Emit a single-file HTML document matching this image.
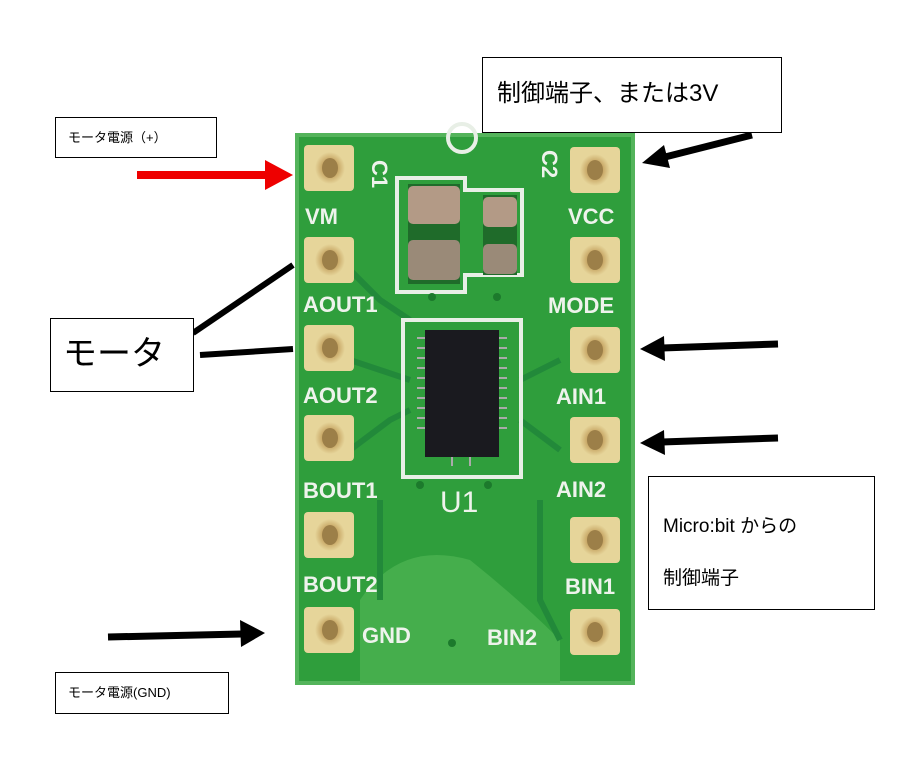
<!DOCTYPE html>
<html><head><meta charset="utf-8"><style>
body{margin:0;width:899px;height:757px;background:#fff;position:relative;overflow:hidden;font-family:"Liberation Sans","Noto Sans CJK JP",sans-serif}
.box{position:absolute;border:1px solid #000;background:#fff;box-sizing:border-box}
</style></head><body>
<svg width="899" height="757" style="position:absolute;left:0;top:0">
<defs>
<radialGradient id="pad" cx="50%" cy="50%" r="50%"><stop offset="0" stop-color="#a88d55"/><stop offset="0.55" stop-color="#c9a968"/><stop offset="1" stop-color="#e6d59a"/></radialGradient>
</defs>
<rect x="297" y="135" width="336" height="548" fill="#2f9e3c"/>
<rect x="297" y="135" width="336" height="548" fill="none" stroke="#54b45b" stroke-width="4"/>
<!-- traces darker -->
<path d="M360 600 Q400 540 470 560 Q520 600 560 640 L560 683 L360 683 Z" fill="#45ae4c"/>
<g stroke="#22893a" stroke-width="6" fill="none">
<path d="M350 270 L380 300 L410 320"/><path d="M350 360 L380 370 L410 380"/>
<path d="M350 450 L390 420 L410 410"/><path d="M560 360 L520 380"/><path d="M560 450 L520 420"/>
<path d="M540 500 L540 600 L560 640"/><path d="M380 500 L380 600"/>
</g>
<!-- silkscreen -->
<g stroke="#e8efe6" stroke-width="4" fill="none">
<path d="M397 178 L465 178 L465 190 L522 190 L522 275 L465 275 L465 292 L397 292 Z"/>
<rect x="403" y="320" width="118" height="157"/>
<circle cx="462" cy="138" r="14"/>
</g>
<rect x="408" y="184" width="52" height="100" fill="#1f6b2a"/>
<rect x="408" y="186" width="52" height="38" rx="5" fill="#b39a86"/>
<rect x="408" y="240" width="52" height="40" rx="5" fill="#9a8a78"/>
<rect x="483" y="195" width="34" height="80" fill="#1f6b2a"/>
<rect x="483" y="197" width="34" height="30" rx="5" fill="#b39a86"/>
<rect x="483" y="244" width="34" height="30" rx="5" fill="#9a8a78"/>
<g fill="#1c7a2c"><circle cx="432" cy="297" r="4"/><circle cx="497" cy="297" r="4"/><circle cx="420" cy="485" r="4"/><circle cx="488" cy="485" r="4"/><circle cx="452" cy="643" r="4"/></g>
<rect x="425" y="330" width="74" height="127" fill="#1a1a1f"/>
<g stroke="#aaa" stroke-width="2">
<line x1="417" y1="338" x2="425" y2="338"/><line x1="417" y1="348" x2="425" y2="348"/><line x1="417" y1="358" x2="425" y2="358"/><line x1="417" y1="368" x2="425" y2="368"/><line x1="417" y1="378" x2="425" y2="378"/><line x1="417" y1="388" x2="425" y2="388"/><line x1="417" y1="398" x2="425" y2="398"/><line x1="417" y1="408" x2="425" y2="408"/><line x1="417" y1="418" x2="425" y2="418"/><line x1="417" y1="428" x2="425" y2="428"/>
<line x1="499" y1="338" x2="507" y2="338"/><line x1="499" y1="348" x2="507" y2="348"/><line x1="499" y1="358" x2="507" y2="358"/><line x1="499" y1="368" x2="507" y2="368"/><line x1="499" y1="378" x2="507" y2="378"/><line x1="499" y1="388" x2="507" y2="388"/><line x1="499" y1="398" x2="507" y2="398"/><line x1="499" y1="408" x2="507" y2="408"/><line x1="499" y1="418" x2="507" y2="418"/><line x1="499" y1="428" x2="507" y2="428"/>
<line x1="452" y1="457" x2="452" y2="466"/><line x1="470" y1="457" x2="470" y2="466"/>
</g>
<!-- pads -->
<g>
<rect x="304" y="145" width="50" height="46" rx="4" fill="#e6d59a"/><ellipse cx="330" cy="168" rx="15" ry="16" fill="url(#pad)"/><ellipse cx="330" cy="168" rx="8" ry="10" fill="#9c7f48"/>
<rect x="304" y="237" width="50" height="46" rx="4" fill="#e6d59a"/><ellipse cx="330" cy="260" rx="15" ry="16" fill="url(#pad)"/><ellipse cx="330" cy="260" rx="8" ry="10" fill="#9c7f48"/>
<rect x="304" y="325" width="50" height="46" rx="4" fill="#e6d59a"/><ellipse cx="330" cy="348" rx="15" ry="16" fill="url(#pad)"/><ellipse cx="330" cy="348" rx="8" ry="10" fill="#9c7f48"/>
<rect x="304" y="415" width="50" height="46" rx="4" fill="#e6d59a"/><ellipse cx="330" cy="438" rx="15" ry="16" fill="url(#pad)"/><ellipse cx="330" cy="438" rx="8" ry="10" fill="#9c7f48"/>
<rect x="304" y="512" width="50" height="46" rx="4" fill="#e6d59a"/><ellipse cx="330" cy="535" rx="15" ry="16" fill="url(#pad)"/><ellipse cx="330" cy="535" rx="8" ry="10" fill="#9c7f48"/>
<rect x="304" y="607" width="50" height="46" rx="4" fill="#e6d59a"/><ellipse cx="330" cy="630" rx="15" ry="16" fill="url(#pad)"/><ellipse cx="330" cy="630" rx="8" ry="10" fill="#9c7f48"/>
<rect x="570" y="147" width="50" height="46" rx="4" fill="#e6d59a"/><ellipse cx="595" cy="170" rx="15" ry="16" fill="url(#pad)"/><ellipse cx="595" cy="170" rx="8" ry="10" fill="#9c7f48"/>
<rect x="570" y="237" width="50" height="46" rx="4" fill="#e6d59a"/><ellipse cx="595" cy="260" rx="15" ry="16" fill="url(#pad)"/><ellipse cx="595" cy="260" rx="8" ry="10" fill="#9c7f48"/>
<rect x="570" y="327" width="50" height="46" rx="4" fill="#e6d59a"/><ellipse cx="595" cy="350" rx="15" ry="16" fill="url(#pad)"/><ellipse cx="595" cy="350" rx="8" ry="10" fill="#9c7f48"/>
<rect x="570" y="417" width="50" height="46" rx="4" fill="#e6d59a"/><ellipse cx="595" cy="440" rx="15" ry="16" fill="url(#pad)"/><ellipse cx="595" cy="440" rx="8" ry="10" fill="#9c7f48"/>
<rect x="570" y="517" width="50" height="46" rx="4" fill="#e6d59a"/><ellipse cx="595" cy="540" rx="15" ry="16" fill="url(#pad)"/><ellipse cx="595" cy="540" rx="8" ry="10" fill="#9c7f48"/>
<rect x="570" y="609" width="50" height="46" rx="4" fill="#e6d59a"/><ellipse cx="595" cy="632" rx="15" ry="16" fill="url(#pad)"/><ellipse cx="595" cy="632" rx="8" ry="10" fill="#9c7f48"/>
</g>
<g fill="#eef3ec" font-family="Liberation Sans" font-weight="bold" font-size="22">
<text x="305" y="224">VM</text>
<text x="303" y="312">AOUT1</text>
<text x="303" y="403">AOUT2</text>
<text x="303" y="498">BOUT1</text>
<text x="303" y="592">BOUT2</text>
<text x="362" y="643">GND</text>
<text x="568" y="224">VCC</text>
<text x="548" y="313">MODE</text>
<text x="556" y="404">AIN1</text>
<text x="556" y="497">AIN2</text>
<text x="565" y="594">BIN1</text>
<text x="487" y="645">BIN2</text>
<text x="440" y="512" font-size="30" font-weight="normal">U1</text>
<text transform="translate(372,160) rotate(90)" font-size="22">C1</text>
<text transform="translate(542,150) rotate(90)" font-size="22">C2</text>
</g>
<!-- arrows -->
<line x1="137" y1="175" x2="268" y2="175" stroke="#e00" stroke-width="8"/>
<polygon points="265,160 293,175 265,190" fill="#e00"/>
<line x1="193" y1="333" x2="293" y2="265" stroke="#000" stroke-width="6"/>
<line x1="200" y1="355" x2="293" y2="349" stroke="#000" stroke-width="6"/>
<line x1="752" y1="135" x2="665" y2="157" stroke="#000" stroke-width="7"/>
<polygon points="642,163 664,145 670,168" fill="#000"/>
<line x1="778" y1="344" x2="662" y2="348" stroke="#000" stroke-width="7"/>
<polygon points="640,349 664,336 665,361" fill="#000"/>
<line x1="778" y1="438" x2="662" y2="442" stroke="#000" stroke-width="7"/>
<polygon points="640,443 664,430 665,455" fill="#000"/>
<line x1="108" y1="637" x2="242" y2="634" stroke="#000" stroke-width="7"/>
<polygon points="265,633 240,620 241,647" fill="#000"/>
</svg>
<div class="box" style="left:55px;top:117px;width:162px;height:41px;font-size:13px;line-height:39px;padding-left:12px">モータ電源（+）</div>
<div class="box" style="left:482px;top:57px;width:300px;height:76px;font-size:24px;line-height:72px;padding-left:14px">制御端子、または3V</div>
<div class="box" style="left:50px;top:318px;width:144px;height:74px;font-size:34px;line-height:70px;padding-left:12px">モータ</div>
<div class="box" style="left:648px;top:476px;width:227px;height:134px;font-size:19px;padding:24px 0 0 14px;line-height:52px">Micro:bit からの<br>制御端子</div>
<div class="box" style="left:55px;top:672px;width:174px;height:42px;font-size:13px;line-height:40px;padding-left:12px">モータ電源(GND)</div>
</body></html>
